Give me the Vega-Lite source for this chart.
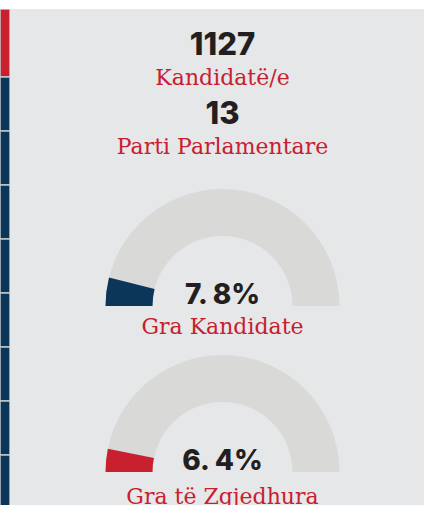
{
  "$schema": "https://vega.github.io/schema/vega-lite/v6.json",
  "background": "#ffffff",
  "padding": {"top": 9, "left": 0, "right": 0, "bottom": 0},
  "spacing": 0,
  "bounds": "flush",
  "config": {"view": {"fill": "#e6e7e9", "stroke": null}, "concat": {"spacing": 0}},
  "resolve": {"scale": {"color": "independent"}},
  "datasets": {
    "sections": [
      {"seg": 1, "len": 68, "kind": "current"},
      {"seg": 2, "len": 54, "kind": "other"},
      {"seg": 3, "len": 54, "kind": "other"},
      {"seg": 4, "len": 54, "kind": "other"},
      {"seg": 5, "len": 54, "kind": "other"},
      {"seg": 6, "len": 54, "kind": "other"},
      {"seg": 7, "len": 54, "kind": "other"},
      {"seg": 8, "len": 54, "kind": "other"},
      {"seg": 9, "len": 54, "kind": "other"}
    ],
    "stats": [
      {"order": 1, "number": 1127, "label": "Kandidatë/e"},
      {"order": 2, "number": 13, "label": "Parti Parlamentare"}
    ],
    "gauges": [
      {"gauge": "Gra Kandidate", "pct": 7.8, "display": "7. 8%"},
      {"gauge": "Gra të Zgjedhura", "pct": 6.4, "display": "6. 4%"}
    ]
  },
  "hconcat": [
    {
      "width": 10,
      "height": 496,
      "data": {"name": "sections"},
      "mark": {"type": "bar", "width": 10, "clip": true, "stroke": "#c5c9cd", "strokeWidth": 1.5},
      "encoding": {
        "y": {"field": "len", "type": "quantitative", "stack": "zero", "scale": {"domain": [0, 496], "reverse": true, "nice": false}, "axis": null},
        "order": {"field": "seg", "type": "ordinal"},
        "color": {"field": "kind", "type": "nominal", "scale": {"domain": ["current", "other"], "range": ["#c8202f", "#0b3559"]}, "legend": null}
      }
    },
    {
      "width": 414,
      "height": 496,
      "layer": [
        {
          "data": {"name": "stats"},
          "mark": {"type": "text", "font": "Inter", "fontWeight": 800, "fontSize": 31, "color": "#231f20", "baseline": "alphabetic", "align": "center", "xOffset": 5.5},
          "encoding": {
            "y": {"field": "order", "type": "quantitative", "scale": {"domain": [0.3333, 7.5217], "reverse": true, "nice": false, "zero": false}, "axis": null},
            "text": {"field": "number", "type": "quantitative", "format": "d"}
          }
        },
        {
          "data": {"name": "stats"},
          "mark": {"type": "text", "font": "DejaVu Serif", "fontSize": 22, "color": "#c8202f", "baseline": "alphabetic", "align": "center", "xOffset": 5.5},
          "encoding": {
            "y": {"field": "order", "type": "quantitative", "scale": {"domain": [-0.1014, 7.087], "reverse": true, "nice": false, "zero": false}, "axis": null},
            "text": {"field": "label", "type": "nominal"}
          }
        },
        {
          "data": {"name": "gauges"},
          "mark": {"type": "arc", "radius": 117, "radius2": 70, "theta": -1.5708, "theta2": 1.5708, "color": "#d9d9d7", "xOffset": 5.5},
          "encoding": {
            "y": {"field": "gauge", "type": "nominal", "sort": ["Gra Kandidate", "Gra të Zgjedhura"], "scale": {"type": "point", "padding": 0.9939, "align": 0.9}, "axis": null}
          }
        },
        {
          "data": {"name": "gauges"},
          "mark": {"type": "arc", "radius": 117, "radius2": 70, "xOffset": 5.5},
          "encoding": {
            "y": {"field": "gauge", "type": "nominal", "sort": ["Gra Kandidate", "Gra të Zgjedhura"], "scale": {"type": "point", "padding": 0.9939, "align": 0.9}, "axis": null},
            "theta": {"field": "pct", "type": "quantitative", "stack": null, "scale": {"domain": [0, 100], "range": [-1.5708, 1.5708]}},
            "color": {"field": "gauge", "type": "nominal", "scale": {"domain": ["Gra Kandidate", "Gra të Zgjedhura"], "range": ["#0b3559", "#c8202f"]}, "legend": null}
          }
        },
        {
          "data": {"name": "gauges"},
          "mark": {"type": "text", "font": "Inter", "fontWeight": 800, "fontSize": 28, "color": "#231f20", "baseline": "alphabetic", "align": "center", "xOffset": 5.5},
          "encoding": {
            "y": {"field": "gauge", "type": "nominal", "sort": ["Gra Kandidate", "Gra të Zgjedhura"], "scale": {"type": "point", "padding": 0.9939, "align": 0.89394}, "axis": null},
            "text": {"field": "display", "type": "nominal"}
          }
        },
        {
          "data": {"name": "gauges"},
          "mark": {"type": "text", "font": "DejaVu Serif", "fontSize": 22, "color": "#c8202f", "baseline": "alphabetic", "align": "center", "clip": true, "xOffset": 5.5},
          "encoding": {
            "y": {"field": "gauge", "type": "nominal", "sort": ["Gra Kandidate", "Gra të Zgjedhura"], "scale": {"type": "point", "padding": 0.9588, "align": 0.99601}, "axis": null},
            "text": {"field": "gauge", "type": "nominal"}
          }
        }
      ],
      "resolve": {"scale": {"y": "independent"}}
    }
  ]
}
